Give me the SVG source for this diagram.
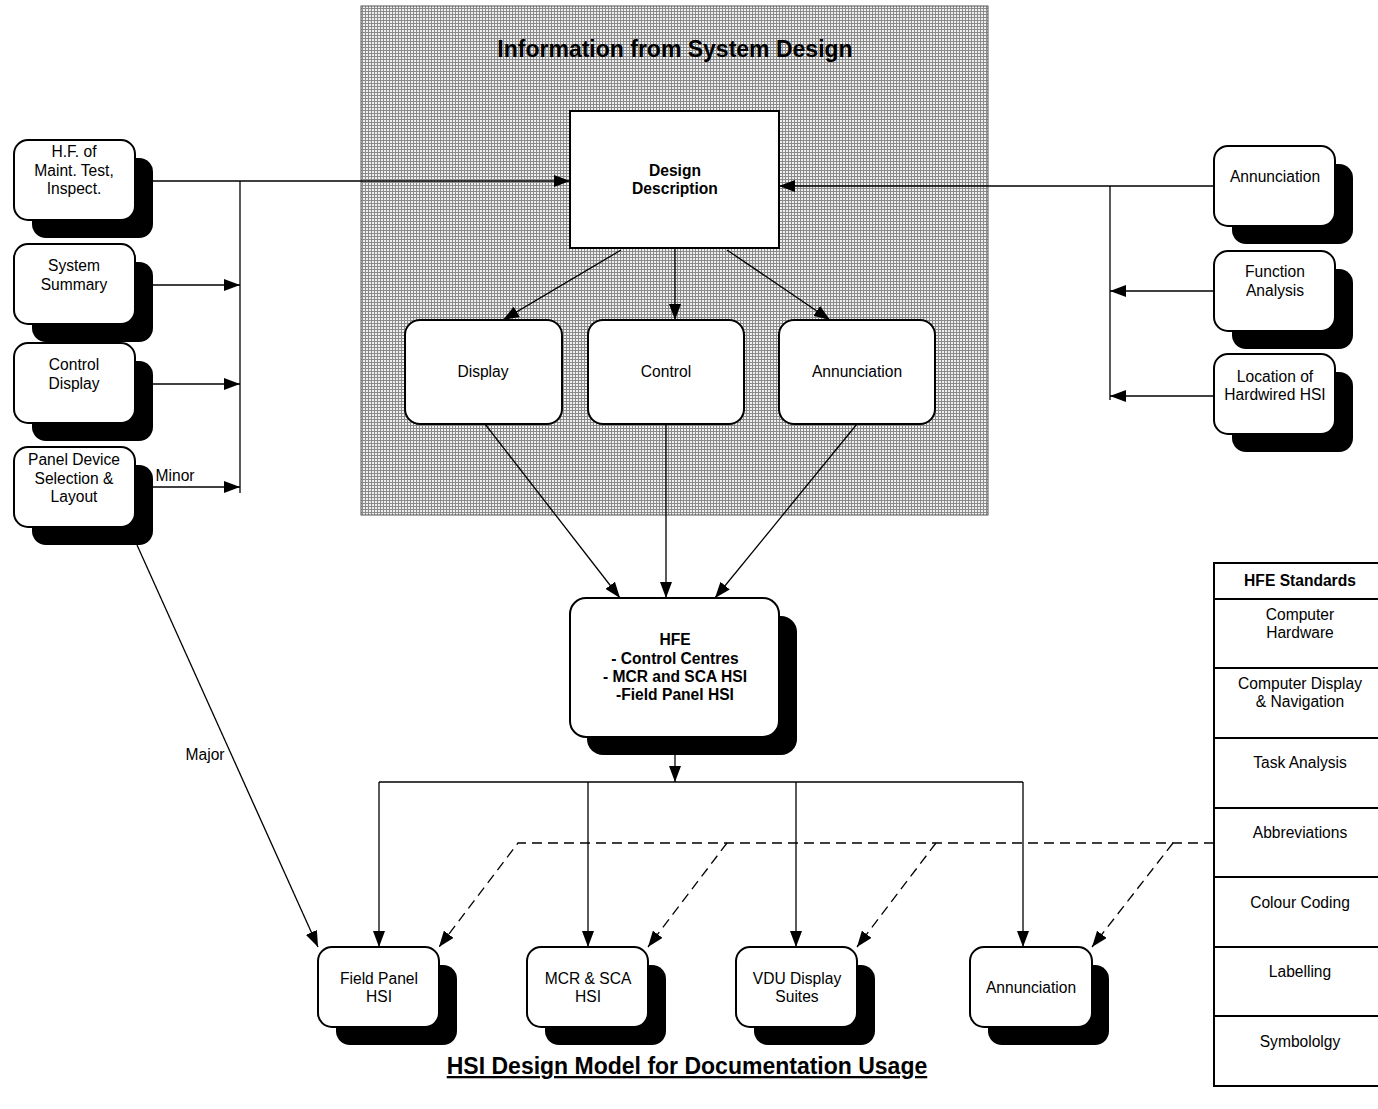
<svg xmlns="http://www.w3.org/2000/svg" width="1378" height="1109" viewBox="0 0 1378 1109">
<defs>
<pattern id="mesh" width="3" height="3" patternUnits="userSpaceOnUse">
<rect width="3" height="3" fill="#8a8a8a"/>
<rect width="2" height="2" fill="#f0f0f0"/>
</pattern>
<marker id="ah" markerWidth="16" markerHeight="12" refX="16" refY="6" orient="auto" markerUnits="userSpaceOnUse">
<path d="M0,0 L16,6 L0,12 z" fill="#000"/>
</marker>
</defs>
<style>
text{font-family:"Liberation Sans",Arial,sans-serif;font-size:15.6px;fill:#000;text-anchor:middle}
.b{font-weight:bold}
.box{fill:#fff;stroke:#000;stroke-width:2}
.sh{fill:#000}
.ln{fill:none;stroke:#000;stroke-width:1.3}
.ar{marker-end:url(#ah)}
.da{stroke-dasharray:10,6}
</style>
<rect width="1378" height="1109" fill="#fff"/>

<g id="system-design">
<rect x="361" y="6" width="627" height="509" fill="url(#mesh)" stroke="#555" stroke-width="1"/>
<text class="b" x="675" y="57" style="font-size:23px">Information from System Design</text>
</g>

<g id="connectors">
<path class="ln ar" d="M135,181 H570"/>
<path class="ln" d="M240,181 V493"/>
<path class="ln ar" d="M135,285 H240"/>
<path class="ln ar" d="M135,384 H240"/>
<path class="ln ar" d="M135,487 H240"/>
<path class="ln ar" d="M1214,186 H779"/>
<path class="ln" d="M1110,186 V400"/>
<path class="ln ar" d="M1214,291 H1110"/>
<path class="ln ar" d="M1214,396 H1110"/>
<path class="ln ar" d="M621,250 L503,320"/>
<path class="ln ar" d="M675,248 V320"/>
<path class="ln ar" d="M727,250 L830,320"/>
<path class="ln ar" d="M485,424 L620,598"/>
<path class="ln ar" d="M666,424 V598"/>
<path class="ln ar" d="M857,424 L715,598"/>
<path class="ln ar" d="M675,755 V782"/>
<path class="ln" d="M379,782 H1023"/>
<path class="ln ar" d="M379,782 V947"/>
<path class="ln ar" d="M588,782 V947"/>
<path class="ln ar" d="M796,782 V947"/>
<path class="ln ar" d="M1023,782 V947"/>
<path class="ln ar" d="M137,545 L318,947"/>
<path class="ln da ar" d="M1214,843 H518 L439,947"/>
<path class="ln da ar" d="M727,843 L648,947"/>
<path class="ln da ar" d="M936,843 L857,947"/>
<path class="ln da ar" d="M1173,843 L1092,947"/>
<text x="175" y="481">Minor</text>
<text x="205" y="760">Major</text>
</g>

<g id="hf-maint">
<rect class="sh" x="32" y="158" width="121" height="80" rx="14"/>
<rect class="box" x="14" y="140" width="121" height="80" rx="14"/>
<text x="74" y="157">H.F. of</text>
<text x="74" y="176">Maint. Test,</text>
<text x="74" y="194">Inspect.</text>
</g>
<g id="system-summary">
<rect class="sh" x="32" y="262" width="121" height="80" rx="14"/>
<rect class="box" x="14" y="244" width="121" height="80" rx="14"/>
<text x="74" y="271">System</text>
<text x="74" y="290">Summary</text>
</g>
<g id="control-display">
<rect class="sh" x="32" y="361" width="121" height="80" rx="14"/>
<rect class="box" x="14" y="343" width="121" height="80" rx="14"/>
<text x="74" y="370">Control</text>
<text x="74" y="389">Display</text>
</g>
<g id="panel-device">
<rect class="sh" x="32" y="465" width="121" height="80" rx="14"/>
<rect class="box" x="14" y="447" width="121" height="80" rx="14"/>
<text x="74" y="465">Panel Device</text>
<text x="74" y="484">Selection &amp;</text>
<text x="74" y="502">Layout</text>
</g>

<g id="annunciation-in">
<rect class="sh" x="1232" y="164" width="121" height="80" rx="14"/>
<rect class="box" x="1214" y="146" width="121" height="80" rx="14"/>
<text x="1275" y="182">Annunciation</text>
</g>
<g id="function-analysis">
<rect class="sh" x="1232" y="269" width="121" height="80" rx="14"/>
<rect class="box" x="1214" y="251" width="121" height="80" rx="14"/>
<text x="1275" y="277">Function</text>
<text x="1275" y="296">Analysis</text>
</g>
<g id="location-hsi">
<rect class="sh" x="1232" y="372" width="121" height="80" rx="14"/>
<rect class="box" x="1214" y="354" width="121" height="80" rx="14"/>
<text x="1275" y="382">Location of</text>
<text x="1275" y="400">Hardwired HSI</text>
</g>

<g id="design-description">
<rect class="box" x="570" y="111" width="209" height="137"/>
<text class="b" x="675" y="176">Design</text>
<text class="b" x="675" y="194">Description</text>
</g>
<g id="display">
<rect class="box" x="405" y="320" width="157" height="104" rx="15"/>
<text x="483" y="377">Display</text>
</g>
<g id="control">
<rect class="box" x="588" y="320" width="156" height="104" rx="15"/>
<text x="666" y="377">Control</text>
</g>
<g id="annunciation-mid">
<rect class="box" x="779" y="320" width="156" height="104" rx="15"/>
<text x="857" y="377">Annunciation</text>
</g>

<g id="hfe">
<rect class="sh" x="587" y="616" width="210" height="139" rx="16"/>
<rect class="box" x="570" y="598" width="209" height="139" rx="16"/>
<text class="b" x="675" y="645">HFE</text>
<text class="b" x="675" y="664">- Control Centres</text>
<text class="b" x="675" y="682">- MCR and SCA HSI</text>
<text class="b" x="675" y="700">-Field Panel HSI</text>
</g>

<g id="field-panel-hsi">
<rect class="sh" x="336" y="965" width="121" height="80" rx="14"/>
<rect class="box" x="318" y="947" width="121" height="80" rx="14"/>
<text x="379" y="984">Field Panel</text>
<text x="379" y="1002">HSI</text>
</g>
<g id="mcr-sca-hsi">
<rect class="sh" x="545" y="965" width="121" height="80" rx="14"/>
<rect class="box" x="527" y="947" width="121" height="80" rx="14"/>
<text x="588" y="984">MCR &amp; SCA</text>
<text x="588" y="1002">HSI</text>
</g>
<g id="vdu-display">
<rect class="sh" x="754" y="965" width="121" height="80" rx="14"/>
<rect class="box" x="736" y="947" width="121" height="80" rx="14"/>
<text x="797" y="984">VDU Display</text>
<text x="797" y="1002">Suites</text>
</g>
<g id="annunciation-out">
<rect class="sh" x="988" y="965" width="121" height="80" rx="14"/>
<rect class="box" x="970" y="947" width="122" height="80" rx="14"/>
<text x="1031" y="993">Annunciation</text>
</g>

<g id="hfe-standards">
<rect x="1214" y="563" width="172" height="523" fill="#fff" stroke="#000" stroke-width="2"/>
<path d="M1214,599 H1386 M1214,668 H1386 M1214,738 H1386 M1214,808 H1386 M1214,877 H1386 M1214,947 H1386 M1214,1016 H1386" stroke="#000" stroke-width="2"/>
<text class="b" x="1300" y="586">HFE Standards</text>
<text x="1300" y="620">Computer</text>
<text x="1300" y="638">Hardware</text>
<text x="1300" y="689">Computer Display</text>
<text x="1300" y="707">&amp; Navigation</text>
<text x="1300" y="768">Task Analysis</text>
<text x="1300" y="838">Abbreviations</text>
<text x="1300" y="908">Colour Coding</text>
<text x="1300" y="977">Labelling</text>
<text x="1300" y="1047">Symbololgy</text>
</g>

<g id="caption">
<text class="b" x="687" y="1074" style="font-size:23px;text-decoration:underline">HSI Design Model for Documentation Usage</text>
</g>
</svg>
